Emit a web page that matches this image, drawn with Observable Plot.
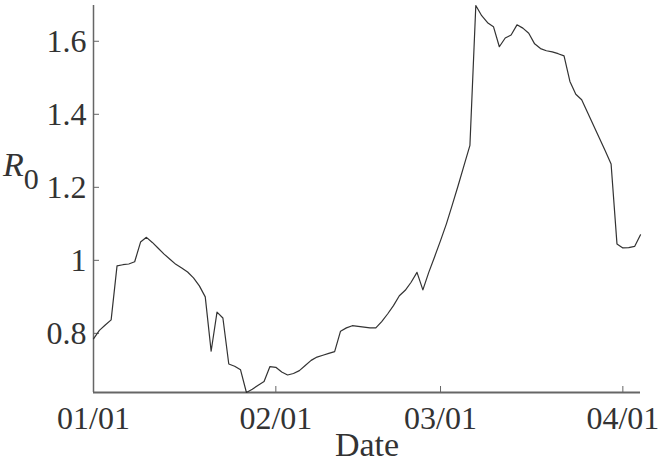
<!DOCTYPE html>
<html>
<head>
<meta charset="utf-8">
<script src="https://cdn.jsdelivr.net/npm/d3@7"></script>
<script src="https://cdn.jsdelivr.net/npm/@observablehq/plot@0.6"></script>
<style>
  html, body { margin: 0; padding: 0; background: #fff; }
</style>
</head>
<body>
<div id="chart"></div>
<script>
// Daily R0 estimates, starting 2021-01-01
const startDate = "2021-01-01";
const r0Values = [
  0.785, 0.808, 0.823, 0.837, 0.985, 0.988, 0.990, 0.996, 1.050, 1.063,
  1.049, 1.033, 1.017, 1.003, 0.989, 0.979, 0.968, 0.952, 0.930, 0.900,
  0.751, 0.858, 0.842, 0.716, 0.710, 0.700, 0.638, 0.647, 0.658, 0.668,
  0.709, 0.707, 0.694, 0.686, 0.690, 0.698, 0.712, 0.726, 0.735, 0.740,
  0.745, 0.750, 0.806, 0.815, 0.821, 0.819, 0.817, 0.815, 0.815, 0.832,
  0.853, 0.876, 0.903, 0.918, 0.940, 0.967, 0.919, 0.967, 1.010, 1.054,
  1.100, 1.152, 1.205, 1.260, 1.315, 1.698, 1.670, 1.651, 1.640, 1.585,
  1.609, 1.617, 1.645, 1.636, 1.622, 1.593, 1.580, 1.574, 1.571, 1.566,
  1.560, 1.490, 1.455, 1.440, 1.405, 1.370, 1.335, 1.300, 1.264, 1.045,
  1.034, 1.035, 1.038, 1.070
];
const xTickDates = ["2021-01-01", "2021-02-01", "2021-03-01", "2021-04-01"];
const yTickValues = [0.8, 1, 1.2, 1.4, 1.6];
const xLabel = "Date";

const t0 = new Date(startDate + "T00:00:00Z");
const data = r0Values.map((v, i) => ({date: d3.utcDay.offset(t0, i), r0: v}));
const xDomain = d3.extent(data, d => d.date);
const yDomain = d3.extent(data, d => d.r0);
const xTicks = xTickDates.map(s => new Date(s + "T00:00:00Z"));

const axisColor = "#666";
const textColor = "#333";

const chart = Plot.plot({
  width: 664,
  height: 467,
  marginLeft: 93,
  marginRight: 24,
  marginTop: 5,
  marginBottom: 75,
  style: {fontFamily: "'Liberation Serif', serif", fontSize: "32px", color: textColor, background: "#fff"},
  x: {type: "utc", domain: xDomain},
  y: {domain: yDomain},
  marks: [
    Plot.axisX({ticks: xTicks, tickFormat: d3.utcFormat("%m/%d"), tickSize: -6, tickPadding: 20, label: null, stroke: axisColor, fill: textColor, fontSize: 32}),
    Plot.axisY({ticks: yTickValues, tickFormat: d => String(d), tickSize: -6, tickPadding: 13, label: null, stroke: axisColor, fill: textColor, fontSize: 32}),
    Plot.ruleY([yDomain[0]], {stroke: axisColor, strokeWidth: 2}),
    Plot.ruleX([xDomain[0]], {stroke: axisColor, strokeWidth: 1.5}),
    Plot.text([xLabel], {frameAnchor: "bottom", lineAnchor: "top", dy: 39, fill: textColor, fontSize: 34}),
    Plot.lineY(data, {x: "date", y: "r0", stroke: "#333", strokeWidth: 1.2})
  ]
});

// y-axis label: italic R with subscript 0
const svg = d3.select(chart);
const lab = svg.append("text")
  .attr("x", 3)
  .attr("y", 176)
  .attr("text-anchor", "start")
  .attr("fill", textColor)
  .attr("font-family", "'Liberation Serif', serif")
  .attr("font-size", 34);
lab.append("tspan").attr("font-style", "italic").text("R");
lab.append("tspan").attr("dy", 13).attr("font-size", 30).text("0");

document.getElementById("chart").appendChild(chart);
</script>
</body>
</html>
